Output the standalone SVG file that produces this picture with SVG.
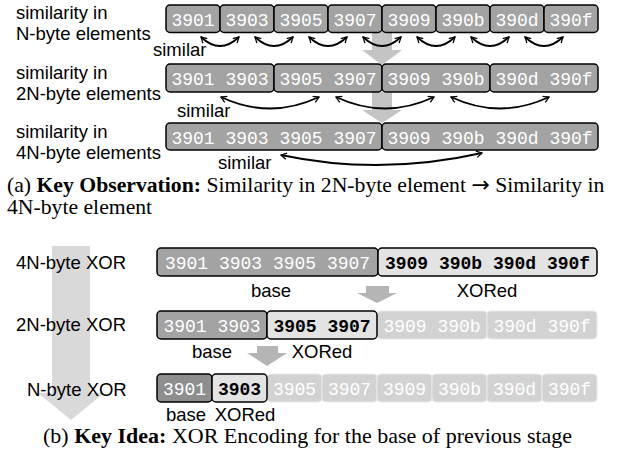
<svg xmlns="http://www.w3.org/2000/svg" width="624" height="458" viewBox="0 0 624 458">
<style>
.lbl{font-family:"Liberation Sans",Arial,sans-serif;font-size:18.5px;fill:#000}
.cap{font-family:"Liberation Serif","Times New Roman",serif;font-size:22px;fill:#000}
.arr{font-family:"DejaVu Sans",sans-serif;font-size:22px}
.mono{font-family:"Liberation Mono","Courier New",monospace;font-size:18px;text-anchor:middle}
.w{fill:#fff}
.k{fill:#000;font-weight:bold}
.box{fill:#a3a3a3;stroke:#000;stroke-width:1.5}
.dark{fill:#8e8e8e;stroke:#000;stroke-width:1.5}
.xor{fill:#e3e3e3;stroke:#000;stroke-width:1.5}
.fade{fill:#d2d2d2;stroke:#e8e8e8;stroke-width:1}
.cv{fill:none;stroke:#000;stroke-width:1.8}
.big{fill:#c4c4c4}
.big2{fill:#d9d9d9}
.sm{fill:#b5b5b5}
</style>
<defs>
<marker id="ah" viewBox="0 0 10 10" refX="8" refY="5" markerWidth="8" markerHeight="8" orient="auto-start-reverse" markerUnits="userSpaceOnUse">
<path d="M1,1 L8,5 L1,9" fill="none" stroke="#000" stroke-width="1.6"/>
</marker>
</defs>

<!-- Part (a) -->
<g id="a-labels">
<text class="lbl" x="16" y="19">similarity in</text>
<text class="lbl" x="16" y="40">N-byte elements</text>
<text class="lbl" x="16" y="79">similarity in</text>
<text class="lbl" x="16" y="100">2N-byte elements</text>
<text class="lbl" x="16" y="138">similarity in</text>
<text class="lbl" x="16" y="159">4N-byte elements</text>
</g>

<g id="a-bigarrows">
<polygon class="big" points="372,32 392,32 392,50 402,50 382,65 362,50 372,50"/>
<polygon class="big" points="372,92 392,92 392,110 402,110 382,123 362,110 372,110"/>
</g>

<g id="row-a1">
<rect class="box" x="166" y="5" width="54" height="27.5" rx="4"/>
<rect class="box" x="220" y="5" width="54" height="27.5" rx="4"/>
<rect class="box" x="274" y="5" width="54" height="27.5" rx="4"/>
<rect class="box" x="328" y="5" width="54" height="27.5" rx="4"/>
<rect class="box" x="382" y="5" width="54" height="27.5" rx="4"/>
<rect class="box" x="436" y="5" width="54" height="27.5" rx="4"/>
<rect class="box" x="490" y="5" width="54" height="27.5" rx="4"/>
<rect class="box" x="544" y="5" width="54" height="27.5" rx="4"/>
<text class="mono w" x="193" y="26">3901</text>
<text class="mono w" x="247" y="26">3903</text>
<text class="mono w" x="301" y="26">3905</text>
<text class="mono w" x="355" y="26">3907</text>
<text class="mono w" x="409" y="26">3909</text>
<text class="mono w" x="463" y="26">390b</text>
<text class="mono w" x="517" y="26">390d</text>
<text class="mono w" x="571" y="26">390f</text>
</g>

<g id="row-a2">
<rect class="box" x="166" y="64" width="108" height="28" rx="4"/>
<rect class="box" x="274" y="64" width="108" height="28" rx="4"/>
<rect class="box" x="382" y="64" width="108" height="28" rx="4"/>
<rect class="box" x="490" y="64" width="108" height="28" rx="4"/>
<text class="mono w" x="220" y="85">3901 3903</text>
<text class="mono w" x="328" y="85">3905 3907</text>
<text class="mono w" x="436" y="85">3909 390b</text>
<text class="mono w" x="544" y="85">390d 390f</text>
</g>

<g id="row-a3">
<rect class="box" x="166" y="123" width="216" height="27" rx="4"/>
<rect class="box" x="382" y="123" width="216" height="27" rx="4"/>
<text class="mono w" x="274" y="143.5">3901 3903 3905 3907</text>
<text class="mono w" x="490" y="143.5">3909 390b 390d 390f</text>
</g>

<g id="connectors-a">
<path class="cv" d="M201,37 Q220,55 239,37" marker-start="url(#ah)" marker-end="url(#ah)"/>
<path class="cv" d="M255,37 Q274,55 293,37" marker-start="url(#ah)" marker-end="url(#ah)"/>
<path class="cv" d="M309,37 Q328,55 347,37" marker-start="url(#ah)" marker-end="url(#ah)"/>
<path class="cv" d="M363,37 Q382,55 401,37" marker-start="url(#ah)" marker-end="url(#ah)"/>
<path class="cv" d="M417,37 Q436,55 455,37" marker-start="url(#ah)" marker-end="url(#ah)"/>
<path class="cv" d="M471,37 Q490,55 509,37" marker-start="url(#ah)" marker-end="url(#ah)"/>
<path class="cv" d="M525,37 Q544,55 563,37" marker-start="url(#ah)" marker-end="url(#ah)"/>
<path class="cv" d="M221,97 Q270,120 319,97" marker-start="url(#ah)" marker-end="url(#ah)"/>
<path class="cv" d="M336,97 Q385,120 434,97" marker-start="url(#ah)" marker-end="url(#ah)"/>
<path class="cv" d="M451,97 Q500,120 549,97" marker-start="url(#ah)" marker-end="url(#ah)"/>
<path class="cv" d="M281,155 Q380,176 482,153" marker-start="url(#ah)" marker-end="url(#ah)"/>
</g>

<g id="a-similar">
<text class="lbl" x="153" y="56">similar</text>
<text class="lbl" x="177" y="117">similar</text>
<text class="lbl" x="218" y="169">similar</text>
</g>

<g id="caption-a">
<text class="cap" x="7" y="192" style="font-size:21.7px">(a) <tspan font-weight="bold">Key Observation:</tspan> Similarity in 2N-byte element <tspan class="arr">→</tspan> Similarity in</text>
<text class="cap" x="7" y="214" style="font-size:21.7px">4N-byte element</text>
</g>

<!-- Part (b) -->
<g id="b-bigarrow">
<polygon class="big2" points="52,246 90,246 90,393 104,393 71,420 38,393 52,393"/>
</g>

<g id="b-labels">
<text class="lbl" x="16" y="269">4N-byte XOR</text>
<text class="lbl" x="16" y="331">2N-byte XOR</text>
<text class="lbl" x="27" y="396">N-byte XOR</text>
</g>

<g id="row-b1">
<rect class="box" x="157" y="248" width="221" height="28" rx="4"/>
<rect class="xor" x="378" y="248" width="219" height="28" rx="4"/>
<text class="mono w" x="267.5" y="269">3901 3903 3905 3907</text>
<text class="mono k" x="487.5" y="269">3909 390b 390d 390f</text>
<text class="lbl" x="271" y="297" text-anchor="middle">base</text>
<text class="lbl" x="487" y="297" text-anchor="middle">XORed</text>
</g>

<g id="row-b2">
<rect class="fade" x="377" y="311" width="110" height="28" rx="4"/>
<rect class="fade" x="487" y="311" width="110" height="28" rx="4"/>
<rect class="box" x="157" y="311" width="110" height="28" rx="4"/>
<rect class="xor" x="267" y="311" width="110" height="28" rx="4"/>
<text class="mono w" x="212" y="332">3901 3903</text>
<text class="mono k" x="322" y="332">3905 3907</text>
<text class="mono w" x="432" y="332">3909 390b</text>
<text class="mono w" x="542" y="332">390d 390f</text>
<text class="lbl" x="212" y="358" text-anchor="middle">base</text>
<text class="lbl" x="322" y="358" text-anchor="middle">XORed</text>
</g>

<g id="row-b3">
<rect class="fade" x="267" y="374" width="55" height="28" rx="4"/>
<rect class="fade" x="322" y="374" width="55" height="28" rx="4"/>
<rect class="fade" x="377" y="374" width="55" height="28" rx="4"/>
<rect class="fade" x="432" y="374" width="55" height="28" rx="4"/>
<rect class="fade" x="487" y="374" width="55" height="28" rx="4"/>
<rect class="fade" x="542" y="374" width="55" height="28" rx="4"/>
<rect class="dark" x="157" y="374" width="55" height="28" rx="4"/>
<rect class="xor" x="212" y="374" width="55" height="28" rx="4"/>
<text class="mono w" x="184.5" y="395">3901</text>
<text class="mono k" x="239.5" y="395">3903</text>
<text class="mono w" x="294.5" y="395">3905</text>
<text class="mono w" x="349.5" y="395">3907</text>
<text class="mono w" x="404.5" y="395">3909</text>
<text class="mono w" x="459.5" y="395">390b</text>
<text class="mono w" x="514.5" y="395">390d</text>
<text class="mono w" x="569.5" y="395">390f</text>
<text class="lbl" x="186" y="421" text-anchor="middle">base</text>
<text class="lbl" x="245" y="421" text-anchor="middle">XORed</text>
</g>

<g id="connectors-b">
<polygon class="sm" points="366,286 389,286 389,293 397,293 377,303 357,293 366,293"/>
<polygon class="sm" points="257,346 278,346 278,353 287,353 267,366 247,353 257,353"/>
</g>

<g id="caption-b">
<text class="cap" x="43" y="443">(b) <tspan font-weight="bold">Key Idea:</tspan> XOR Encoding for the base of previous stage</text>
</g>
</svg>
